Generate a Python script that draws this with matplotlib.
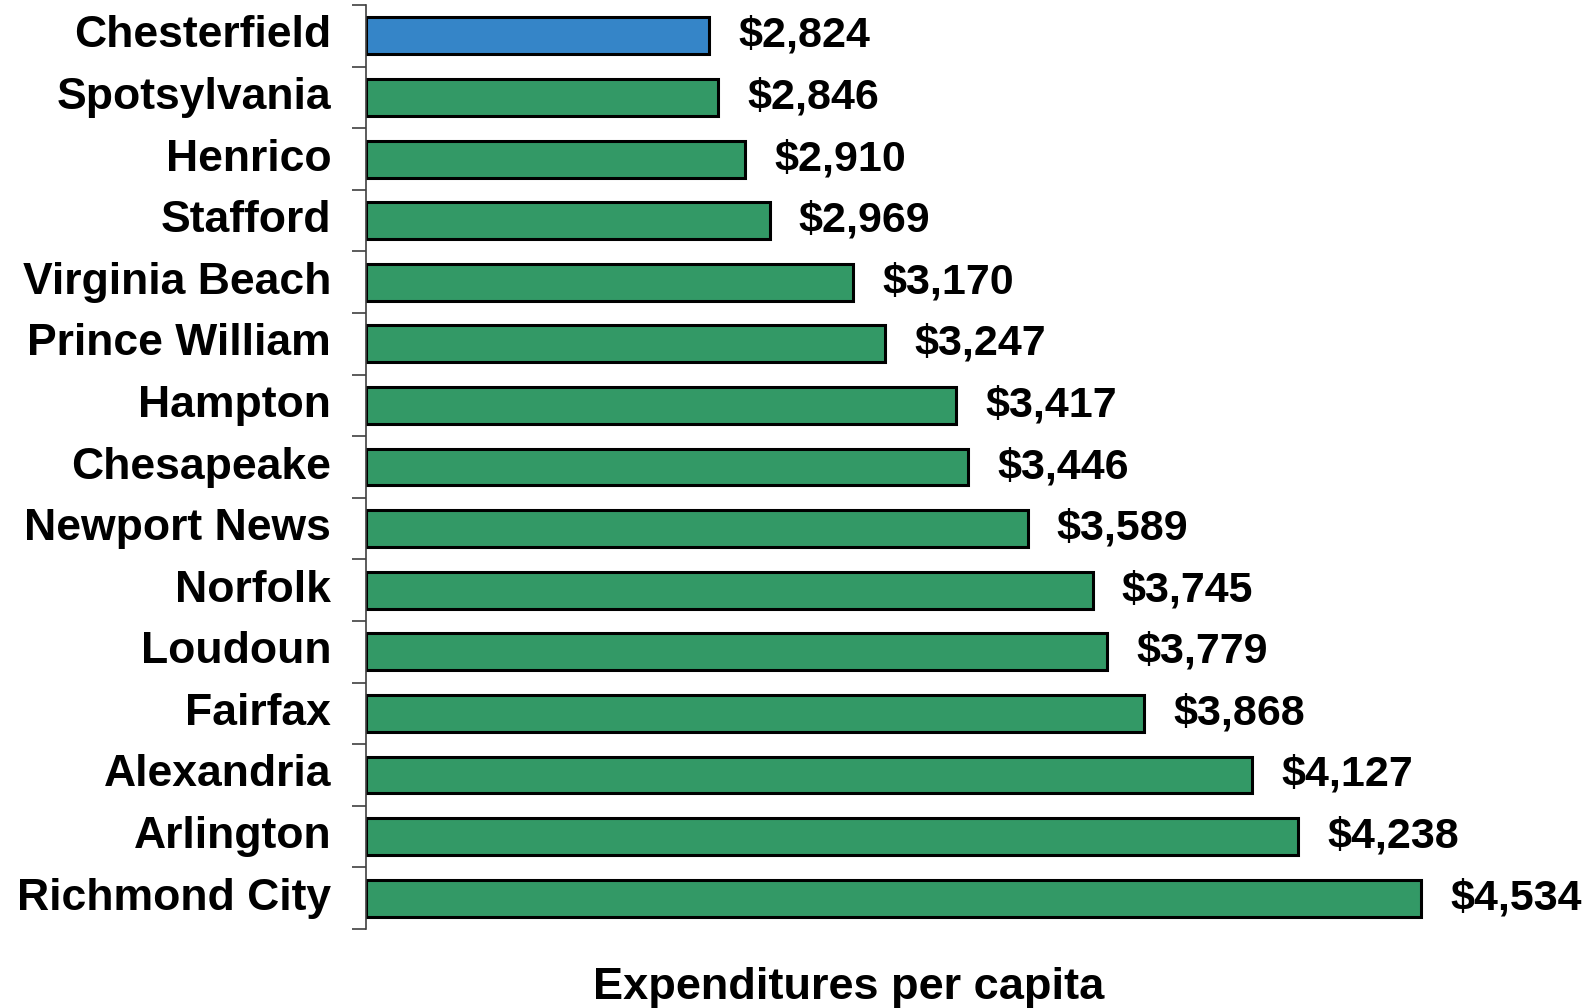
import matplotlib
matplotlib.use("Agg")
import matplotlib.pyplot as plt
import matplotlib.transforms as mtransforms
import numpy as np

plt.rcParams['font.family'] = ['Liberation Sans', 'DejaVu Sans']

# expenditures per capita by locality
localities = ["Chesterfield", "Spotsylvania", "Henrico", "Stafford",
              "Virginia Beach", "Prince William", "Hampton", "Chesapeake",
              "Newport News", "Norfolk", "Loudoun", "Fairfax",
              "Alexandria", "Arlington", "Richmond City"]
spending = [2824, 2846, 2910, 2969, 3170, 3247, 3417, 3446,
            3589, 3745, 3779, 3868, 4127, 4238, 4534]
highlight = "Chesterfield"

base = 2000
fig = plt.figure(figsize=(15.91, 10.08), dpi=100)
ax = fig.add_axes([0.230, 0.0784, 0.733, 0.9166])

y = np.arange(len(localities))
colours = ['#3585C8' if n == highlight else '#339966' for n in localities]
ax.barh(y, np.array(spending) - base, left=base, height=0.6,
        color=colours, edgecolor='black', linewidth=2.2)

for yi, v in zip(y, spending):
    ax.text(v + 70, yi, f"${v:,}", va='center', ha='left',
            fontsize=31, fontweight='bold')

ax.set_xlim(base, 4800)
ax.set_ylim(len(localities) - 0.5, -0.5)

ax.set_yticks(y)
ax.set_yticklabels(localities, fontsize=32, fontweight='bold')
# nudge the category labels up a few pixels
shift = mtransforms.ScaledTranslation(0, 3 / 100, fig.dpi_scale_trans)
for lbl in ax.get_yticklabels():
    lbl.set_verticalalignment('center')
    lbl.set_transform(lbl.get_transform() + shift)
ax.set_yticks(np.arange(-0.5, len(localities)), minor=True)
ax.tick_params(axis='y', which='major', length=0, pad=25)
ax.tick_params(axis='y', which='minor', length=10, width=1.2, color='#404040')
ax.set_xticks([])

for s in ['top', 'right', 'bottom']:
    ax.spines[s].set_visible(False)
ax.spines['left'].set_color('#404040')
ax.spines['left'].set_linewidth(1.2)

fig.text(0.5335, 0.020, "Expenditures per capita", ha='center', va='center',
         fontsize=32.5, fontweight='bold')

fig.savefig("out.png", dpi=100)
